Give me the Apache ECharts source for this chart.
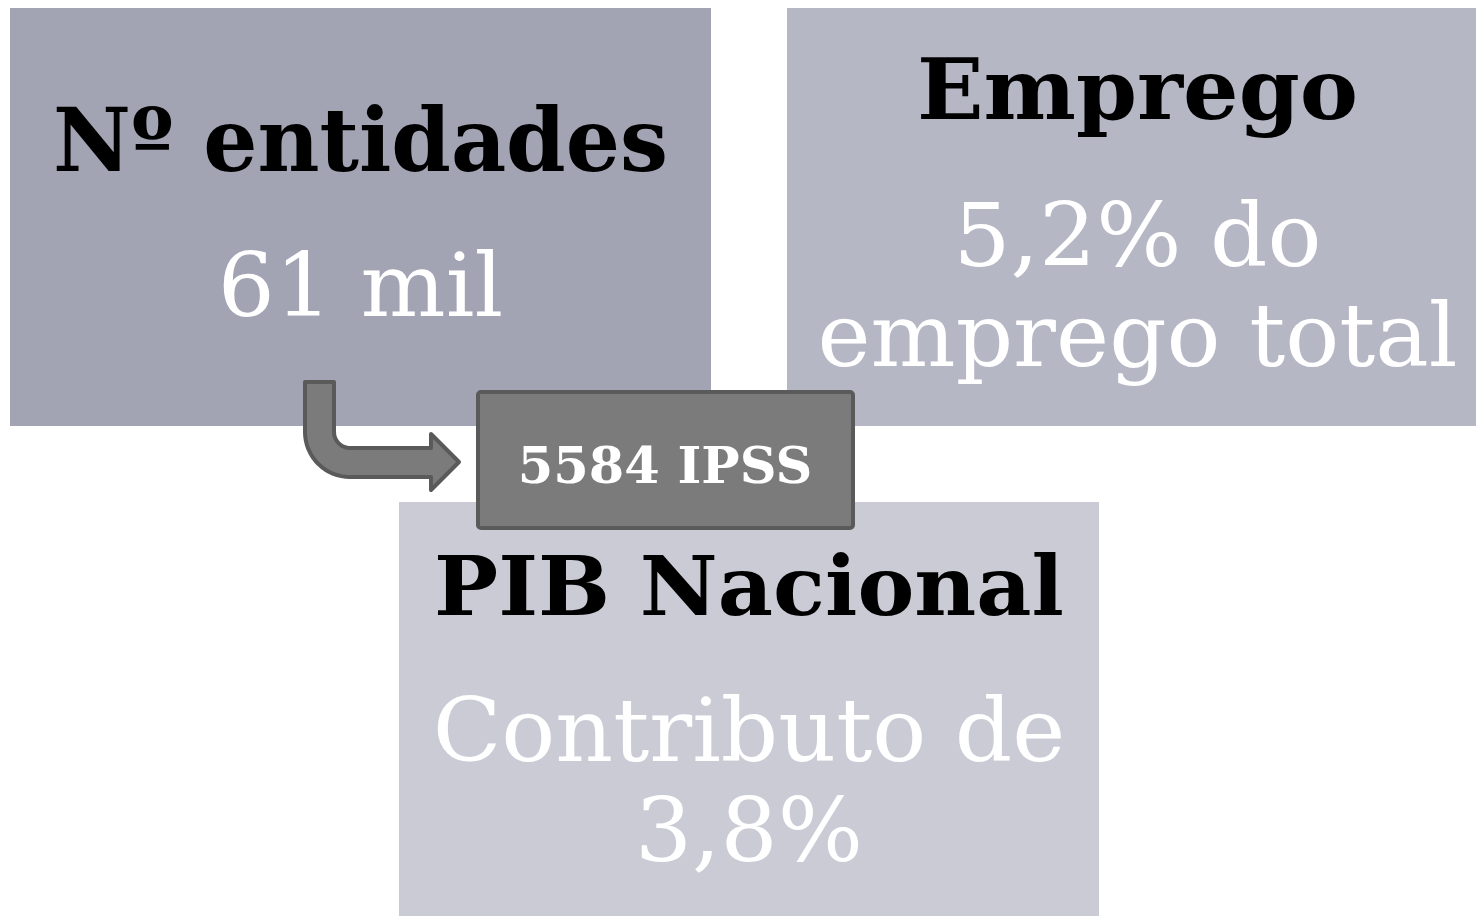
<!DOCTYPE html>
<html>
<head>
<meta charset="utf-8">
<script src="https://cdn.jsdelivr.net/npm/echarts@6/dist/echarts.min.js"></script>
<style>
  html, body { margin: 0; padding: 0; background: #fff; }
  #chart { width: 1476px; height: 916px; }
</style>
</head>
<body>
<div id="chart"></div>
<script>
// conteúdo
var titles = ['Nº entidades', 'Emprego', 'PIB Nacional']
var values = [['61 mil'], ['5,2% do', 'emprego total'], ['Contributo de', '3,8%']]
var highlight = '5584 IPSS'

// layout (posições, tamanhos e cores)
var boxes = [
  { x: 10, y: 8, w: 701, h: 418, color: '#A2A3B3', dx: 0, titleY: 175, titleSize: 87, titleSx: 0.98, valueY: [320] },
  { x: 787, y: 8, w: 689, h: 418, color: '#B6B7C5', dx: 6, titleY: 122, titleSize: 84, titleSx: 1.04, valueY: [270, 370] },
  { x: 399, y: 502, w: 700, h: 414, color: '#CBCBD6', dx: 0, titleY: 618, titleSize: 82, titleSx: 1.04, valueY: [765, 865] }
]
var valueSize = 88
var font = '"DejaVu Serif", serif'

var chart = echarts.init(document.getElementById('chart'))
var elements = []

// baseline -> centro (verticalAlign middle)
function mid(baseline, size) { return baseline - size * 0.30 }

boxes.forEach(function (b, i) {
  var cx = b.x + b.w / 2 + b.dx
  elements.push({
    type: 'rect', z: 1,
    shape: { x: b.x, y: b.y, width: b.w, height: b.h },
    style: { fill: b.color }
  })
  elements.push({
    type: 'text', z: 5, x: cx, y: mid(b.titleY, b.titleSize), scaleX: b.titleSx,
    style: { text: titles[i], fill: '#000', font: 'bold ' + b.titleSize + 'px ' + font, align: 'center', verticalAlign: 'middle' }
  })
  values[i].forEach(function (t, j) {
    elements.push({
      type: 'text', z: 5, x: cx, y: mid(b.valueY[j], valueSize), scaleX: 1.02,
      style: { text: t, fill: '#fff', font: valueSize + 'px ' + font, align: 'center', verticalAlign: 'middle' }
    })
  })
})

// caixa 5584 IPSS
elements.push({
  type: 'rect', z: 10,
  shape: { x: 478, y: 392, width: 375, height: 136, r: 3 },
  style: { fill: '#7B7B7B', stroke: '#5A5A5A', lineWidth: 4 }
})
elements.push({
  type: 'text', z: 11, x: 665, y: mid(485, 51),
  style: { text: highlight, fill: '#fff', font: 'bold 51px ' + font, align: 'center', verticalAlign: 'middle' }
})

// seta dobrada (polígono com cantos arredondados)
function arc(cx, cy, r, a0, a1, n) {
  var pts = []
  for (var k = 0; k <= n; k++) {
    var a = (a0 + (a1 - a0) * k / n) * Math.PI / 180
    pts.push([cx + r * Math.cos(a), cy + r * Math.sin(a)])
  }
  return pts
}
var arrow = [[305, 382], [334, 382]]
  .concat(arc(350, 432, 16, 180, 90, 10))
  .concat([[431, 448], [431, 434], [459, 462], [431, 490], [431, 477]])
  .concat(arc(350, 432, 45, 90, 180, 16))
elements.push({
  type: 'polygon', z: 10,
  shape: { points: arrow },
  style: { fill: '#7B7B7B', stroke: '#5A5A5A', lineWidth: 4, lineJoin: 'round' }
})

chart.setOption({
  animation: false,
  graphic: { elements: elements }
})
</script>
</body>
</html>
